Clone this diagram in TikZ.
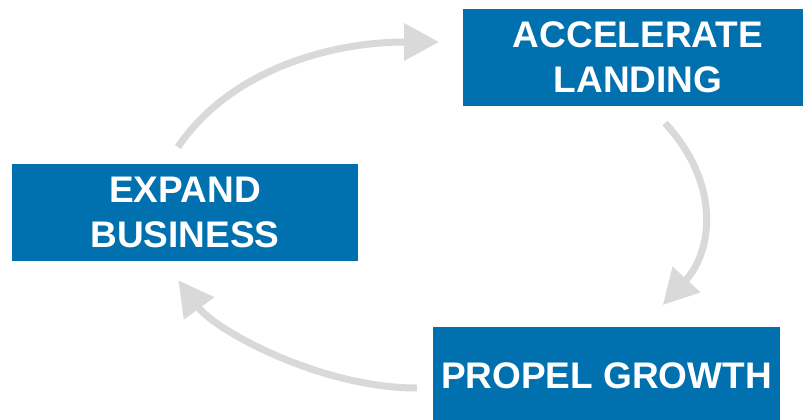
\documentclass[tikz,border=0pt]{standalone}
\usepackage{fontspec}
\setmainfont{Liberation Sans}
\usetikzlibrary{arrows.meta}
\definecolor{boxblue}{RGB}{0,112,175}
\definecolor{arrowgray}{RGB}{217,217,217}
\begin{document}
\begin{tikzpicture}[x=1pt,y=-1pt,
  stepbox/.style={fill=boxblue, draw=none, inner sep=0pt, minimum height=97pt,
    text=white, align=center, font=\fontsize{37}{45}\selectfont\bfseries},
  cyclearrow/.style={draw=arrowgray, line width=7pt,
    -{Triangle[length=35pt,width=36pt,sep=4pt]}}]
\clip (0,0) rectangle (803,420);
\fill[white] (0,0) rectangle (803,420);
\node[stepbox, minimum width=350pt] (acc) at (638,57.5) {ACCELERATE\\LANDING};
\node[stepbox, minimum width=346pt] (exp) at (185,212.5) {EXPAND\\BUSINESS};
\node[stepbox, minimum width=347pt] (pro) at (606.5,375.5) {PROPEL GROWTH};
\coordinate (a1s) at (178,147);
\coordinate (a1e) at (443,42);
\coordinate (a2s) at (665,123);
\coordinate (a2e) at (660,308);
\coordinate (a3s) at (417,388);
\coordinate (a3e) at (176,277);
\draw[cyclearrow] (a1s) .. controls (230,70) and (330,42) .. (a1e);
\draw[cyclearrow] (a2s) .. controls (722,185) and (712,252) .. (a2e);
\draw[cyclearrow] (a3s) .. controls (320,388) and (215,330) .. (a3e);
\end{tikzpicture}
\end{document}
